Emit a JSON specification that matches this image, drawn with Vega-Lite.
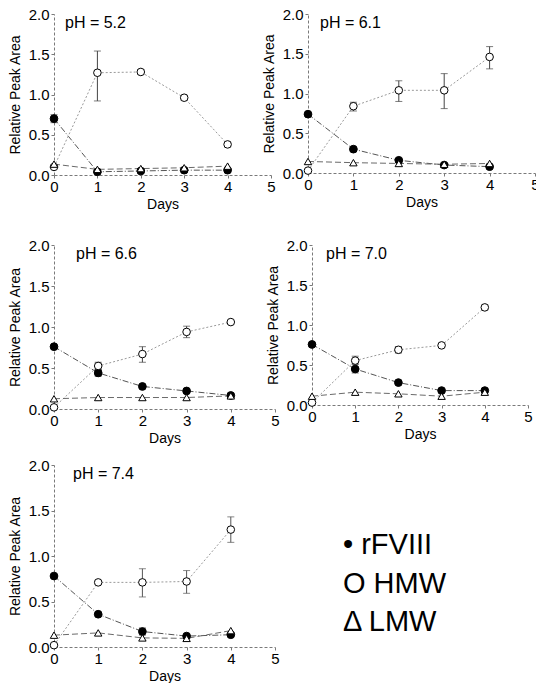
{
  "$schema": "https://vega.github.io/schema/vega-lite/v6.json",
  "padding": {"left": 8, "top": 7, "right": 0, "bottom": 0},
  "datasets": {
    "peaks": [
      {"ph": "5.2", "series": "rFVIII", "day": 0, "value": 0.70, "lo": 0.65, "hi": 0.75},
      {"ph": "5.2", "series": "rFVIII", "day": 1, "value": 0.04},
      {"ph": "5.2", "series": "rFVIII", "day": 2, "value": 0.05},
      {"ph": "5.2", "series": "rFVIII", "day": 3, "value": 0.06},
      {"ph": "5.2", "series": "rFVIII", "day": 4, "value": 0.06},
      {"ph": "5.2", "series": "HMW", "day": 0, "value": 0.10},
      {"ph": "5.2", "series": "HMW", "day": 1, "value": 1.27, "lo": 0.92, "hi": 1.54},
      {"ph": "5.2", "series": "HMW", "day": 2, "value": 1.28, "lo": 1.25, "hi": 1.31},
      {"ph": "5.2", "series": "HMW", "day": 3, "value": 0.96, "lo": 0.93, "hi": 0.99},
      {"ph": "5.2", "series": "HMW", "day": 4, "value": 0.38, "lo": 0.35, "hi": 0.41},
      {"ph": "5.2", "series": "LMW", "day": 0, "value": 0.135},
      {"ph": "5.2", "series": "LMW", "day": 1, "value": 0.07},
      {"ph": "5.2", "series": "LMW", "day": 2, "value": 0.08},
      {"ph": "5.2", "series": "LMW", "day": 3, "value": 0.09},
      {"ph": "5.2", "series": "LMW", "day": 4, "value": 0.11},

      {"ph": "6.1", "series": "rFVIII", "day": 0, "value": 0.74},
      {"ph": "6.1", "series": "rFVIII", "day": 1, "value": 0.30},
      {"ph": "6.1", "series": "rFVIII", "day": 2, "value": 0.16},
      {"ph": "6.1", "series": "rFVIII", "day": 3, "value": 0.10},
      {"ph": "6.1", "series": "rFVIII", "day": 4, "value": 0.08},
      {"ph": "6.1", "series": "HMW", "day": 0, "value": 0.03},
      {"ph": "6.1", "series": "HMW", "day": 1, "value": 0.84, "lo": 0.78, "hi": 0.89},
      {"ph": "6.1", "series": "HMW", "day": 2, "value": 1.04, "lo": 0.90, "hi": 1.16},
      {"ph": "6.1", "series": "HMW", "day": 3, "value": 1.04, "lo": 0.81, "hi": 1.25},
      {"ph": "6.1", "series": "HMW", "day": 4, "value": 1.46, "lo": 1.31, "hi": 1.59},
      {"ph": "6.1", "series": "LMW", "day": 0, "value": 0.145},
      {"ph": "6.1", "series": "LMW", "day": 1, "value": 0.13},
      {"ph": "6.1", "series": "LMW", "day": 2, "value": 0.12},
      {"ph": "6.1", "series": "LMW", "day": 3, "value": 0.11},
      {"ph": "6.1", "series": "LMW", "day": 4, "value": 0.12},

      {"ph": "6.6", "series": "rFVIII", "day": 0, "value": 0.76},
      {"ph": "6.6", "series": "rFVIII", "day": 1, "value": 0.44, "lo": 0.40, "hi": 0.48},
      {"ph": "6.6", "series": "rFVIII", "day": 2, "value": 0.275},
      {"ph": "6.6", "series": "rFVIII", "day": 3, "value": 0.22},
      {"ph": "6.6", "series": "rFVIII", "day": 4, "value": 0.165, "lo": 0.14, "hi": 0.19},
      {"ph": "6.6", "series": "HMW", "day": 0, "value": 0.02},
      {"ph": "6.6", "series": "HMW", "day": 1, "value": 0.525, "lo": 0.48, "hi": 0.57},
      {"ph": "6.6", "series": "HMW", "day": 2, "value": 0.67, "lo": 0.57, "hi": 0.76},
      {"ph": "6.6", "series": "HMW", "day": 3, "value": 0.94, "lo": 0.87, "hi": 1.01},
      {"ph": "6.6", "series": "HMW", "day": 4, "value": 1.06},
      {"ph": "6.6", "series": "LMW", "day": 0, "value": 0.125},
      {"ph": "6.6", "series": "LMW", "day": 1, "value": 0.14},
      {"ph": "6.6", "series": "LMW", "day": 2, "value": 0.14},
      {"ph": "6.6", "series": "LMW", "day": 3, "value": 0.14},
      {"ph": "6.6", "series": "LMW", "day": 4, "value": 0.16},

      {"ph": "7.0", "series": "rFVIII", "day": 0, "value": 0.757},
      {"ph": "7.0", "series": "rFVIII", "day": 1, "value": 0.45, "lo": 0.40, "hi": 0.51},
      {"ph": "7.0", "series": "rFVIII", "day": 2, "value": 0.28},
      {"ph": "7.0", "series": "rFVIII", "day": 3, "value": 0.18},
      {"ph": "7.0", "series": "rFVIII", "day": 4, "value": 0.18},
      {"ph": "7.0", "series": "HMW", "day": 0, "value": 0.03},
      {"ph": "7.0", "series": "HMW", "day": 1, "value": 0.555, "lo": 0.51, "hi": 0.61},
      {"ph": "7.0", "series": "HMW", "day": 2, "value": 0.69, "lo": 0.65, "hi": 0.73},
      {"ph": "7.0", "series": "HMW", "day": 3, "value": 0.745},
      {"ph": "7.0", "series": "HMW", "day": 4, "value": 1.22, "lo": 1.19, "hi": 1.25},
      {"ph": "7.0", "series": "LMW", "day": 0, "value": 0.11},
      {"ph": "7.0", "series": "LMW", "day": 1, "value": 0.16},
      {"ph": "7.0", "series": "LMW", "day": 2, "value": 0.14},
      {"ph": "7.0", "series": "LMW", "day": 3, "value": 0.11},
      {"ph": "7.0", "series": "LMW", "day": 4, "value": 0.16},

      {"ph": "7.4", "series": "rFVIII", "day": 0, "value": 0.78},
      {"ph": "7.4", "series": "rFVIII", "day": 1, "value": 0.36},
      {"ph": "7.4", "series": "rFVIII", "day": 2, "value": 0.17, "lo": 0.13, "hi": 0.21},
      {"ph": "7.4", "series": "rFVIII", "day": 3, "value": 0.12},
      {"ph": "7.4", "series": "rFVIII", "day": 4, "value": 0.135},
      {"ph": "7.4", "series": "HMW", "day": 0, "value": 0.02},
      {"ph": "7.4", "series": "HMW", "day": 1, "value": 0.71, "lo": 0.69, "hi": 0.73},
      {"ph": "7.4", "series": "HMW", "day": 2, "value": 0.71, "lo": 0.55, "hi": 0.86},
      {"ph": "7.4", "series": "HMW", "day": 3, "value": 0.72, "lo": 0.59, "hi": 0.84},
      {"ph": "7.4", "series": "HMW", "day": 4, "value": 1.29, "lo": 1.15, "hi": 1.43},
      {"ph": "7.4", "series": "LMW", "day": 0, "value": 0.13},
      {"ph": "7.4", "series": "LMW", "day": 1, "value": 0.155},
      {"ph": "7.4", "series": "LMW", "day": 2, "value": 0.10},
      {"ph": "7.4", "series": "LMW", "day": 3, "value": 0.095},
      {"ph": "7.4", "series": "LMW", "day": 4, "value": 0.18}
    ]
  },
  "data": {"name": "peaks"},
  "spacing": 13,
  "vconcat": [
    {
      "spacing": 27,
      "vconcat": [
        {
          "bounds": "flush",
          "spacing": 37,
          "hconcat": [
            {
              "width": 217, "height": 161,
              "title": {"text": "pH = 5.2", "dx": 11, "offset": -24},
              "transform": [{"filter": "datum.ph == '5.2'"}],
              "encoding": {
                "x": {"field": "day", "type": "quantitative", "title": "Days", "scale": {"domain": [0, 5]}},
                "y": {"field": "value", "type": "quantitative", "title": "Relative Peak Area", "scale": {"domain": [0, 2]}}
              },
              "layer": [
                {"mark": {"type": "line", "strokeWidth": 1}, "encoding": {"detail": {"field": "series"}, "color": {"field": "series", "legend": null, "scale": {"domain": ["rFVIII", "HMW", "LMW"], "range": ["#555555", "#9a9a9a", "#6a6a6a"]}}, "strokeDash": {"field": "series", "legend": null, "scale": {"domain": ["rFVIII", "HMW", "LMW"], "range": [[6, 2, 1, 2], [2, 2], [6, 3]]}}}},
                {"transform": [{"filter": "isValid(datum.lo)"}], "mark": {"type": "errorbar", "ticks": {"size": 7}, "color": "#444444"}, "encoding": {"y": {"field": "lo", "type": "quantitative", "title": "Relative Peak Area"}, "y2": {"field": "hi"}}},
                {"mark": {"type": "point", "filled": true, "stroke": "black", "strokeWidth": 1, "opacity": 1}, "encoding": {"shape": {"field": "series", "legend": null, "scale": {"domain": ["rFVIII", "HMW", "LMW"], "range": ["circle", "circle", "triangle-up"]}}, "fill": {"field": "series", "legend": null, "scale": {"domain": ["rFVIII", "HMW", "LMW"], "range": ["black", "white", "white"]}}, "size": {"field": "series", "legend": null, "scale": {"domain": ["rFVIII", "HMW", "LMW"], "range": [60, 55, 45]}}}}
              ]
            },
            {
              "width": 227, "height": 159,
              "title": {"text": "pH = 6.1", "dx": 12, "offset": -24},
              "transform": [{"filter": "datum.ph == '6.1'"}],
              "encoding": {
                "x": {"field": "day", "type": "quantitative", "title": "Days", "scale": {"domain": [0, 5]}},
                "y": {"field": "value", "type": "quantitative", "title": "Relative Peak Area", "scale": {"domain": [0, 2]}}
              },
              "layer": [
                {"mark": {"type": "line", "strokeWidth": 1}, "encoding": {"detail": {"field": "series"}, "color": {"field": "series", "legend": null, "scale": {"domain": ["rFVIII", "HMW", "LMW"], "range": ["#555555", "#9a9a9a", "#6a6a6a"]}}, "strokeDash": {"field": "series", "legend": null, "scale": {"domain": ["rFVIII", "HMW", "LMW"], "range": [[1, 0], [2, 2], [6, 3]]}}}},
                {"transform": [{"filter": "isValid(datum.lo)"}], "mark": {"type": "errorbar", "ticks": {"size": 7}, "color": "#444444"}, "encoding": {"y": {"field": "lo", "type": "quantitative", "title": "Relative Peak Area"}, "y2": {"field": "hi"}}},
                {"mark": {"type": "point", "filled": true, "stroke": "black", "strokeWidth": 1, "opacity": 1}, "encoding": {"shape": {"field": "series", "legend": null, "scale": {"domain": ["rFVIII", "HMW", "LMW"], "range": ["circle", "circle", "triangle-up"]}}, "fill": {"field": "series", "legend": null, "scale": {"domain": ["rFVIII", "HMW", "LMW"], "range": ["black", "white", "white"]}}, "size": {"field": "series", "legend": null, "scale": {"domain": ["rFVIII", "HMW", "LMW"], "range": [60, 55, 45]}}}}
              ]
            }
          ]
        },
        {
          "bounds": "flush",
          "spacing": 37,
          "hconcat": [
            {
              "width": 221, "height": 164,
              "title": {"text": "pH = 6.6", "dx": 22, "offset": -24},
              "transform": [{"filter": "datum.ph == '6.6'"}],
              "encoding": {
                "x": {"field": "day", "type": "quantitative", "title": "Days", "scale": {"domain": [0, 5]}},
                "y": {"field": "value", "type": "quantitative", "title": "Relative Peak Area", "scale": {"domain": [0, 2]}}
              },
              "layer": [
                {"mark": {"type": "line", "strokeWidth": 1}, "encoding": {"detail": {"field": "series"}, "color": {"field": "series", "legend": null, "scale": {"domain": ["rFVIII", "HMW", "LMW"], "range": ["#555555", "#9a9a9a", "#6a6a6a"]}}, "strokeDash": {"field": "series", "legend": null, "scale": {"domain": ["rFVIII", "HMW", "LMW"], "range": [[5, 2], [2, 2], [6, 3, 1, 3]]}}}},
                {"transform": [{"filter": "isValid(datum.lo)"}], "mark": {"type": "errorbar", "ticks": {"size": 7}, "color": "#444444"}, "encoding": {"y": {"field": "lo", "type": "quantitative", "title": "Relative Peak Area"}, "y2": {"field": "hi"}}},
                {"mark": {"type": "point", "filled": true, "stroke": "black", "strokeWidth": 1, "opacity": 1}, "encoding": {"shape": {"field": "series", "legend": null, "scale": {"domain": ["rFVIII", "HMW", "LMW"], "range": ["circle", "circle", "triangle-up"]}}, "fill": {"field": "series", "legend": null, "scale": {"domain": ["rFVIII", "HMW", "LMW"], "range": ["black", "white", "white"]}}, "size": {"field": "series", "legend": null, "scale": {"domain": ["rFVIII", "HMW", "LMW"], "range": [60, 55, 45]}}}}
              ]
            },
            {
              "width": 216, "height": 160,
              "title": {"text": "pH = 7.0", "dx": 14, "offset": -24},
              "transform": [{"filter": "datum.ph == '7.0'"}],
              "encoding": {
                "x": {"field": "day", "type": "quantitative", "title": "Days", "scale": {"domain": [0, 5]}},
                "y": {"field": "value", "type": "quantitative", "title": "Relative Peak Area", "scale": {"domain": [0, 2]}}
              },
              "layer": [
                {"mark": {"type": "line", "strokeWidth": 1}, "encoding": {"detail": {"field": "series"}, "color": {"field": "series", "legend": null, "scale": {"domain": ["rFVIII", "HMW", "LMW"], "range": ["#555555", "#9a9a9a", "#6a6a6a"]}}, "strokeDash": {"field": "series", "legend": null, "scale": {"domain": ["rFVIII", "HMW", "LMW"], "range": [[1, 0], [3, 3], [7, 3]]}}}},
                {"transform": [{"filter": "isValid(datum.lo)"}], "mark": {"type": "errorbar", "ticks": {"size": 7}, "color": "#444444"}, "encoding": {"y": {"field": "lo", "type": "quantitative", "title": "Relative Peak Area"}, "y2": {"field": "hi"}}},
                {"mark": {"type": "point", "filled": true, "stroke": "black", "strokeWidth": 1, "opacity": 1}, "encoding": {"shape": {"field": "series", "legend": null, "scale": {"domain": ["rFVIII", "HMW", "LMW"], "range": ["circle", "circle", "triangle-up"]}}, "fill": {"field": "series", "legend": null, "scale": {"domain": ["rFVIII", "HMW", "LMW"], "range": ["black", "white", "white"]}}, "size": {"field": "series", "legend": null, "scale": {"domain": ["rFVIII", "HMW", "LMW"], "range": [60, 55, 45]}}}}
              ]
            }
          ]
        }
      ]
    },
    {
      "bounds": "flush",
      "spacing": 68,
      "hconcat": [
        {
          "width": 221, "height": 182,
          "title": {"text": "pH = 7.4", "dx": 19, "offset": -24},
          "transform": [{"filter": "datum.ph == '7.4'"}],
          "encoding": {
            "x": {"field": "day", "type": "quantitative", "title": "Days", "scale": {"domain": [0, 5]}},
            "y": {"field": "value", "type": "quantitative", "title": "Relative Peak Area", "scale": {"domain": [0, 2]}}
          },
          "layer": [
            {"mark": {"type": "line", "strokeWidth": 1}, "encoding": {"detail": {"field": "series"}, "color": {"field": "series", "legend": null, "scale": {"domain": ["rFVIII", "HMW", "LMW"], "range": ["#666666", "#a0a0a0", "#6a6a6a"]}}, "strokeDash": {"field": "series", "legend": null, "scale": {"domain": ["rFVIII", "HMW", "LMW"], "range": [[2, 2], [2, 3], [8, 3]]}}}},
            {"transform": [{"filter": "isValid(datum.lo)"}], "mark": {"type": "errorbar", "ticks": {"size": 7}, "color": "#555555"}, "encoding": {"y": {"field": "lo", "type": "quantitative", "title": "Relative Peak Area"}, "y2": {"field": "hi"}}},
            {"mark": {"type": "point", "filled": true, "stroke": "black", "strokeWidth": 1, "opacity": 1}, "encoding": {"shape": {"field": "series", "legend": null, "scale": {"domain": ["rFVIII", "HMW", "LMW"], "range": ["circle", "circle", "triangle-up"]}}, "fill": {"field": "series", "legend": null, "scale": {"domain": ["rFVIII", "HMW", "LMW"], "range": ["black", "white", "white"]}}, "size": {"field": "series", "legend": null, "scale": {"domain": ["rFVIII", "HMW", "LMW"], "range": [60, 55, 45]}}}}
          ]
        },
        {
          "width": 150, "height": 182,
          "data": {"values": [
            {"series": "rFVIII", "label": "• rFVIII"},
            {"series": "HMW", "label": "O HMW"},
            {"series": "LMW", "label": "Δ LMW"}
          ]},
          "mark": {"type": "text", "align": "left", "baseline": "middle", "fontSize": 29},
          "encoding": {
            "x": {"datum": 0, "scale": {"domain": [0, 1]}, "axis": null},
            "y": {"field": "series", "type": "nominal", "axis": null, "scale": {"type": "point", "padding": 0, "domain": ["rFVIII", "HMW", "LMW"], "range": [80, 157]}},
            "text": {"field": "label"}
          }
        }
      ]
    }
  ],
  "config": {
    "font": "Liberation Sans",
    "view": {"stroke": null},
    "title": {
      "anchor": "start",
      "frame": "group",
      "orient": "top",
      "baseline": "alphabetic",
      "font": "Liberation Sans",
      "fontSize": 16,
      "fontWeight": "normal",
      "color": "black"
    },
    "axis": {
      "grid": false,
      "labelFont": "Liberation Sans",
      "titleFont": "Liberation Sans",
      "labelFontSize": 15,
      "titleFontSize": 14,
      "titleFontWeight": "normal",
      "labelColor": "black",
      "titleColor": "black",
      "domainColor": "#7a7a7a",
      "domainDash": [3, 2],
      "tickColor": "#7a7a7a",
      "tickSize": 3,
      "labelFlush": false,
      "labelOverlap": false
    },
    "axisX": {"values": [0, 1, 2, 3, 4, 5], "format": "d", "labelPadding": 1, "titlePadding": 3},
    "axisY": {"values": [0, 0.5, 1, 1.5, 2], "format": ".1f", "labelPadding": 2, "titlePadding": 6}
  }
}
